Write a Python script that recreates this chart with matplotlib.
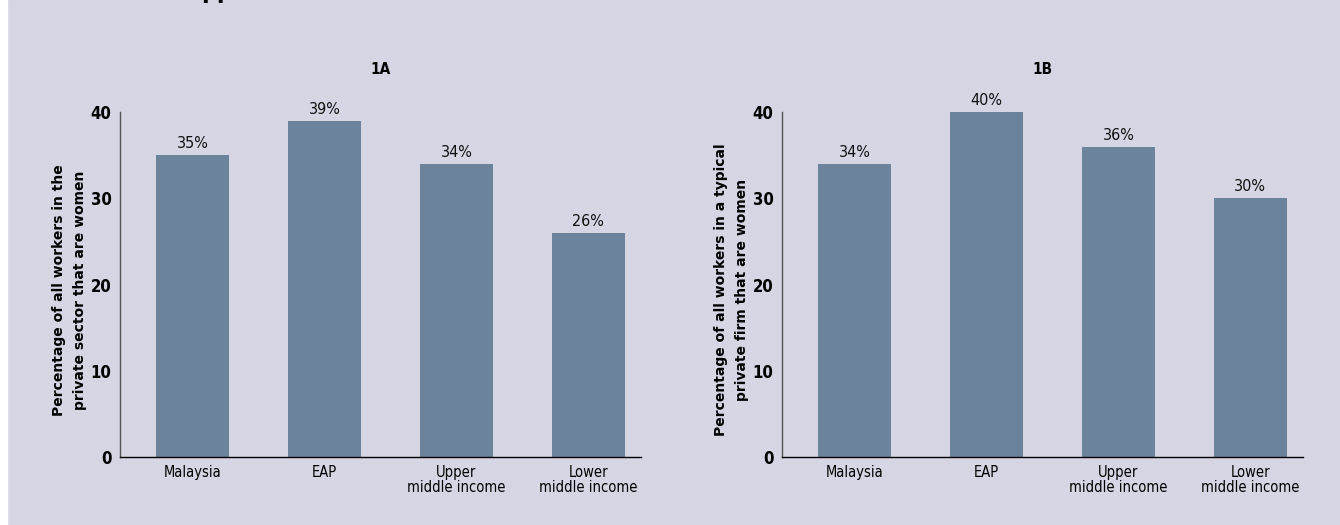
import matplotlib
matplotlib.use("Agg")
import matplotlib.pyplot as plt
import numpy as np

categories = ["Malaysia", "EAP", "Upper\nmiddle income", "Lower\nmiddle income"]
share_1a = [35, 39, 34, 26]   # % of all private-sector workers that are women
share_1b = [34, 40, 36, 30]   # % of workers in a typical private firm that are women
labels_1a = ["35%", "39%", "34%", "26%"]
labels_1b = ["34%", "40%", "36%", "30%"]
yticks = [0, 10, 20, 30, 40]

bg = "#d6d5e4"
bar_color = "#6b849c"
fam = "DejaVu Sans"

fig = plt.figure(figsize=(13.4, 5.25), dpi=100, facecolor=bg)
# thin white strip on the left edge
fig.patches.append(plt.Rectangle((0, 0), 7 / 1340, 1, transform=fig.transFigure,
                                 color="white", zorder=0))

# cut-off heading at the very top (only descenders visible)
fig.text(201 / 1340, 1 + 1 / 525, "pp", fontsize=16, fontweight="bold",
         va="baseline", ha="left", family=fam)


def draw_panel(rect, values, texts, title, ylabel):
    ax = fig.add_axes(rect)
    ax.set_facecolor(bg)
    x = np.arange(len(values))
    bars = ax.bar(x, values, width=0.55, color=bar_color, zorder=2)
    for b in bars:
        b.set_clip_on(False)
    for xi, v, t in zip(x, values, texts):
        ax.text(xi, v + 0.45, t, ha="center", va="bottom", fontsize=11.5,
                family=fam, stretch="condensed", color="#111111")
    ax.set_xlim(-0.55, 3.4)
    ax.set_ylim(0, 40)
    ax.set_yticks(yticks)
    ax.set_xticks(x)
    ax.set_xticklabels(categories, family=fam, stretch="condensed", fontsize=10.5,
                       linespacing=1.0)
    for lab in ax.get_yticklabels():
        lab.set_family(fam)
        lab.set_stretch("condensed")
        lab.set_fontsize(12)
        lab.set_fontweight("bold")
    ax.tick_params(axis="both", length=0)
    ax.tick_params(axis="y", pad=6)
    ax.tick_params(axis="x", pad=6)
    for s in ["top", "right"]:
        ax.spines[s].set_visible(False)
    ax.spines["left"].set_color("#555555")
    ax.spines["left"].set_linewidth(1.0)
    ax.spines["bottom"].set_color("black")
    ax.spines["bottom"].set_linewidth(1.0)
    ax.set_ylabel(ylabel, fontsize=10, fontweight="bold", family=fam,
                  linespacing=1.65)
    ax.yaxis.set_label_coords(-0.064, 0.484)
    pos = ax.get_position()
    fig.text(pos.x0 + pos.width / 2, 1 - 70 / 525, title, ha="center",
             va="center", fontsize=11, fontweight="bold", family=fam,
             stretch="condensed")
    return ax


draw_panel([120 / 1340, 68 / 525, 521 / 1340, 345 / 525], share_1a, labels_1a, "1A",
           "Percentage of all workers in the\nprivate sector that are women")
draw_panel([782 / 1340, 68 / 525, 521 / 1340, 345 / 525], share_1b, labels_1b, "1B",
           "Percentage of all workers in a typical\nprivate firm that are women")

fig.savefig("out.png", dpi=100, facecolor=bg)
